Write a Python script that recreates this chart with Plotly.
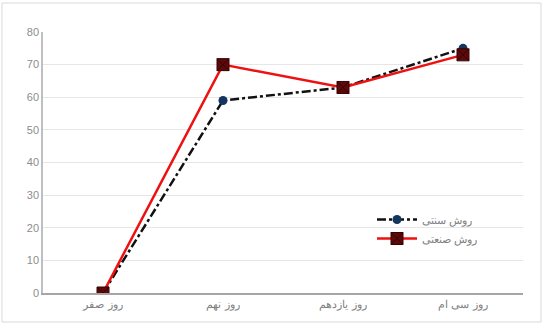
import plotly.graph_objects as go

days = ["روز صفر", "روز نهم", "روز یازدهم", "روز سی ام"]
traditional = [0, 59, 63, 75]
industrial = [0, 70, 63, 73]
series_names = ["روش سنتی", "روش صنعتی"]
y_ticks = [0, 10, 20, 30, 40, 50, 60, 70, 80]

fig = go.Figure()

fig.add_trace(go.Scatter(
    x=days, y=traditional, name=series_names[0], mode="lines+markers",
    line=dict(color="#111111", width=2.5, dash="dashdot"),
    marker=dict(symbol="circle", size=9, color="#14365e"),
))
fig.add_trace(go.Scatter(
    x=days, y=industrial, name=series_names[1], mode="lines+markers",
    line=dict(color="#ee1111", width=2.5),
    marker=dict(symbol="square-x", size=12, color="#5a0a0a",
                line=dict(color="#3a0000", width=1)),
))

# chart frame around the whole figure
L, R, T, B = 43, 21, 32, 32
pw, ph = 544 - L - R, 325 - T - B
def px_x(p):
    return (p - L) / pw
def px_y(p):
    return (325 - B - p) / ph
fig.add_shape(type="rect", xref="paper", yref="paper",
              x0=px_x(2), x1=px_x(541), y0=px_y(322), y1=px_y(3),
              line=dict(color="#d9d9d9", width=1), layer="below")

fig.update_layout(
    template="none",
    width=544, height=325,
    margin=dict(l=L, r=R, t=T, b=B),
    paper_bgcolor="white", plot_bgcolor="white",
    font=dict(family="Liberation Sans, Arial, sans-serif", size=11, color="#7f7f7f"),
    showlegend=True,
    legend=dict(x=px_x(372), y=px_y(205), xanchor="left", yanchor="top",
                bgcolor="rgba(0,0,0,0)", font=dict(size=11, color="#7f7f7f"),
                tracegroupgap=0, itemwidth=40),
    xaxis=dict(range=[-0.5, 3.5], showgrid=False, showline=True, linecolor="#a6a6a6",
               linewidth=1.5, ticks="", tickfont=dict(size=11, color="#7f7f7f")),
    yaxis=dict(range=[0, 80], tickvals=y_ticks, showgrid=True, gridcolor="#e6e6e6",
               gridwidth=1, showline=True, linecolor="#bfbfbf", linewidth=1.5,
               zeroline=False, ticks="", tickfont=dict(size=11, color="#8c8c8c")),
)

fig.write_html("out.html")
